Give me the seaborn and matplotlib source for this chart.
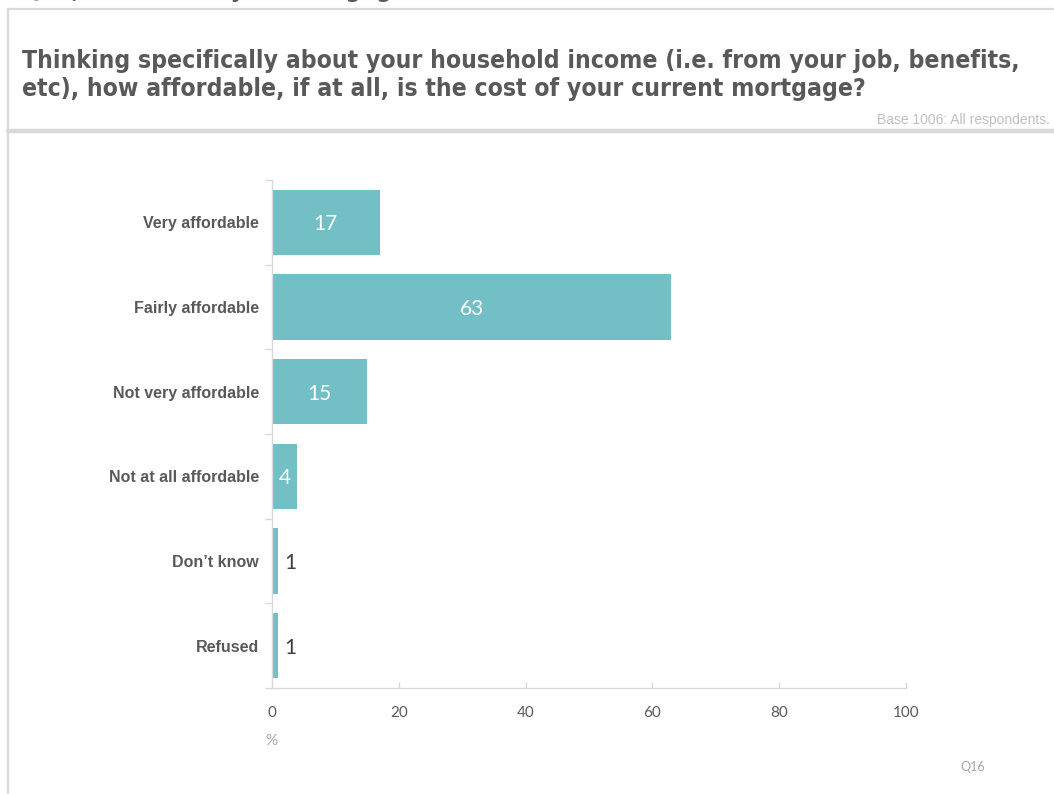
import matplotlib
matplotlib.use("Agg")
import matplotlib.pyplot as plt
from matplotlib.lines import Line2D
from matplotlib.ticker import FixedLocator
import pandas as pd
import seaborn as sns

# Survey responses (% of respondents)
categories = ["Very affordable", "Fairly affordable", "Not very affordable",
              "Not at all affordable", "Don\u2019t know", "Refused"]
percentages = [17, 63, 15, 4, 1, 1]
x_ticks = [0, 20, 40, 60, 80, 100]

question = ("Thinking specifically about your household income (i.e. from your job, benefits,\n"
            "etc), how affordable, if at all, is the cost of your current mortgage?")
slide_heading = "Q16, Affordability of mortgage"
base_note = "Base 1006: All respondents."
question_ref = "Q16"

BAR = "#73bfc6"
GRID = "#d9d9d9"
DARK = "#595959"
LIGHT = "#a6a6a6"

sns.set_theme(style="white")
plt.rcParams["font.family"] = ["Liberation Sans", "DejaVu Sans"]

W, H = 1054, 794
fig = plt.figure(figsize=(W / 100, H / 100), dpi=100)
fig.patch.set_facecolor("white")


def fx(px):
    return px / W


def fy(py):
    return 1 - py / H


# Slide frame
fig.add_artist(Line2D([fx(8), 1], [fy(9), fy(9)], color=GRID, lw=1.6))
fig.add_artist(Line2D([fx(8), fx(8)], [fy(9), 0], color=GRID, lw=1.6))
fig.add_artist(Line2D([fx(8), 1], [fy(131), fy(131)], color=GRID, lw=3.2))

# Heading of the slide, running off the top edge
fig.text(fx(22), fy(-3), slide_heading, ha="left", va="baseline",
         fontsize=17.7, fontweight="bold", color=DARK,
         family=["DejaVu Sans"], fontstretch="condensed")

fig.text(fx(22), fy(75), question, ha="left", va="center", fontsize=17.7,
         fontweight="bold", color=DARK, family=["DejaVu Sans"],
         fontstretch="condensed", linespacing=1.22)
fig.text(fx(1050), fy(120), base_note, ha="right", va="center", fontsize=10,
         color="#bfbfbf", family=["Liberation Sans"])

df = pd.DataFrame({"category": categories, "pct": percentages})

ax = fig.add_axes([fx(272), fy(688), fx(906) - fx(272), fy(180) - fy(688)])
sns.barplot(data=df, y="category", x="pct", orient="h", color=BAR,
            saturation=1, width=0.77, ax=ax, edgecolor="none")

ax.set_xlim(0, 100)
ax.set_ylim(len(categories) - 0.5, -0.5)
ax.set_xlabel("")
ax.set_ylabel("")

for side in ["top", "right"]:
    ax.spines[side].set_visible(False)
for side in ["left", "bottom"]:
    ax.spines[side].set_color(GRID)
    ax.spines[side].set_linewidth(1)

ax.xaxis.set_major_locator(FixedLocator(x_ticks))
ax.set_xticklabels([str(t) for t in x_ticks])
ax.tick_params(axis="x", direction="in", length=4, width=1, color=GRID,
               pad=13, labelsize=11, labelcolor=DARK, bottom=True)
for lab in ax.get_xticklabels():
    lab.set_family(["Lato", "DejaVu Sans"])

ax.yaxis.set_minor_locator(FixedLocator([i - 0.5 for i in range(len(categories) + 1)]))
ax.tick_params(axis="y", which="major", length=0, pad=9.4, labelsize=11.5,
               labelcolor=DARK, left=True)
ax.tick_params(axis="y", which="minor", direction="out", length=5, width=1,
               color=GRID, left=True)
for lab in ax.get_yticklabels():
    lab.set_fontweight("bold")

# Value labels: inside the bar when there is room, otherwise just past it
for i, v in enumerate(percentages):
    if v >= 3:
        ax.text(v / 2, i, str(v), ha="center", va="center_baseline", fontsize=15,
                color="white", family=["Lato", "DejaVu Sans"])
    else:
        ax.text(v + 0.9, i, str(v), ha="left", va="center_baseline", fontsize=15,
                color="#404040", family=["Lato", "DejaVu Sans"])

fig.text(fx(271), fy(741), "%", ha="center", va="center", fontsize=11,
         color=LIGHT, family=["Lato", "DejaVu Sans"])
fig.text(fx(973), fy(767), question_ref, ha="center", va="center", fontsize=9,
         color=LIGHT, family=["Lato", "DejaVu Sans"])

fig.savefig("out.png", dpi=100, facecolor="white")
